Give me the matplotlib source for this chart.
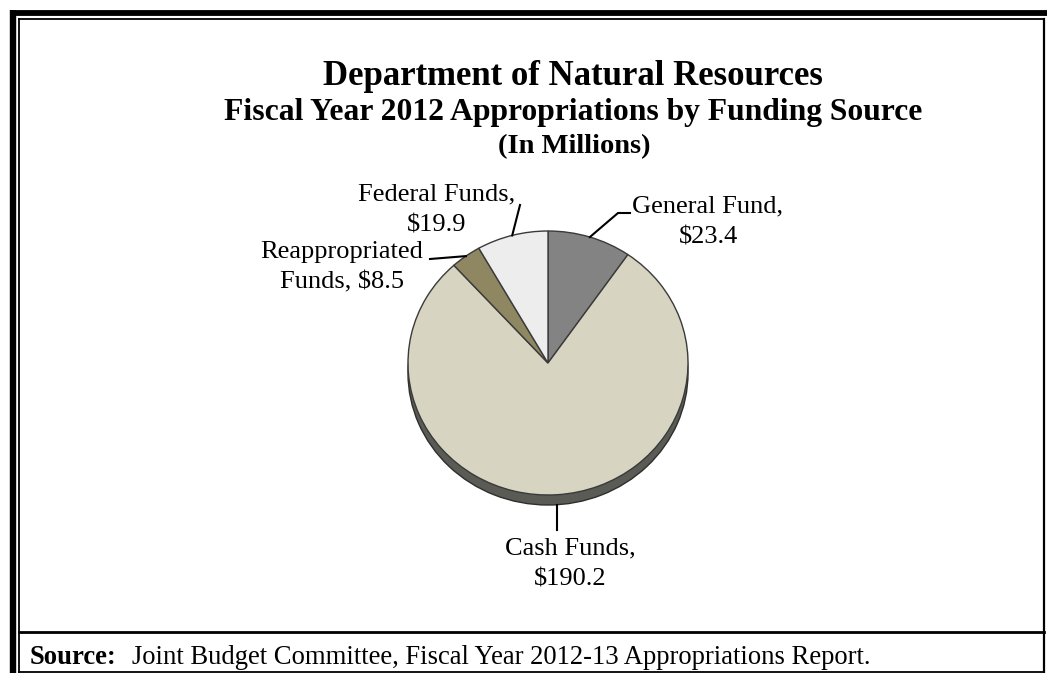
import numpy as np
import matplotlib
matplotlib.use("Agg")
import matplotlib.pyplot as plt
from matplotlib.patches import Rectangle

# FY 2012 appropriations by funding source ($ millions), clockwise from 12 o'clock
sources = ["General Fund", "Cash Funds", "Reappropriated Funds", "Federal Funds"]
amounts = [23.4, 190.2, 8.5, 19.9]
label_text = ["General Fund,\n$23.4", "Cash Funds,\n$190.2",
              "Reappropriated\nFunds, $8.5", "Federal Funds,\n$19.9"]
colors = ["#838383", "#d8d4c2", "#8e8762", "#ededed"]

W, H = 1047, 673
SERIF = "Liberation Serif"

fig = plt.figure(figsize=(W / 100, H / 100), dpi=100)
fig.patch.set_facecolor("white")

# pie axes: slightly squashed so the disc reads as tilted
cx, cy, rx, ry = 548, 363, 140, 132
lim = 1.3
pax = fig.add_axes([(cx - lim * rx) / W, (H - cy - lim * ry) / H,
                    2 * lim * rx / W, 2 * lim * ry / H])
depth = 10 / ry

# side of the disc, drawn underneath the top face
pax.pie([sum(amounts)], colors=["#5b5b55"], center=(0, -depth), radius=1,
        wedgeprops=dict(edgecolor="#2e2e2e", linewidth=1.0))
pax.add_patch(Rectangle((-1, -depth), 2, depth, facecolor="#5b5b55", edgecolor="none"))
wedges, _ = pax.pie(amounts, colors=colors, startangle=90, counterclock=False, radius=1,
                    wedgeprops=dict(edgecolor="#3a3a3a", linewidth=1.0))
pax.set_aspect("auto")
pax.set_xlim(-lim, lim)
pax.set_ylim(-lim, lim)
pax.axis("off")

# overlay in pixel coordinates for frame, titles and leaders
ax = fig.add_axes([0, 0, 1, 1], zorder=5)
ax.set_xlim(0, W)
ax.set_ylim(H, 0)
ax.axis("off")
ax.patch.set_alpha(0)

# double border: heavy outer on top/left, thin inner box, source row underneath
ax.plot([10, W], [12.5, 12.5], color="black", lw=4.2, solid_capstyle="butt")
ax.plot([13, 13], [10, H], color="black", lw=4.6, solid_capstyle="butt")
ax.plot([18.5, 1044], [18.5, 18.5], color="black", lw=1.3)
ax.plot([18.5, 18.5], [18.5, H], color="black", lw=1.3)
ax.plot([1044, 1044], [18.5, H], color="black", lw=1.6)
ax.plot([18.5, 1044], [632, 632], color="black", lw=2.0)
ax.plot([18.5, 1044], [671.5, 671.5], color="black", lw=1.3)

ax.text(573, 85, "Department of Natural Resources", ha="center", va="baseline",
        fontsize=25, fontweight="bold", family=SERIF)
ax.text(573, 120, "Fiscal Year 2012 Appropriations by Funding Source", ha="center",
        va="baseline", fontsize=22.8, fontweight="bold", family=SERIF)
ax.text(574, 153, "(In Millions)", ha="center", va="baseline",
        fontsize=20.5, fontweight="bold", family=SERIF)


def edge_point(w, drop=0.0):
    mid = np.deg2rad((w.theta1 + w.theta2) / 2)
    px, py = pax.transData.transform((np.cos(mid), np.sin(mid) - drop))
    return px, H - py


# leader paths (label end points) and label centres
leader_ends = [[(618, 213), (630, 213)], [(None, 530)], [(430, 259)], [(520, 205)]]
label_pos = [(708, 222), (570, 564), (342, 267), (437, 210)]
drops = [0, depth, 0, 0]

for w, txt, ends, pos, drop in zip(wedges, label_text, leader_ends, label_pos, drops):
    x0, y0 = edge_point(w, drop)
    xs, ys = [x0], [y0]
    for ex, ey in ends:
        xs.append(x0 if ex is None else ex)
        ys.append(ey)
    ax.plot(xs, ys, color="black", lw=1.5)
    ax.text(pos[0], pos[1], txt, ha="center", va="center", multialignment="center",
            fontsize=19, family=SERIF, linespacing=1.5)

ax.text(30, 664, "Source:", ha="left", va="baseline", fontsize=19.2,
        fontweight="bold", family=SERIF)
ax.text(132, 664, "Joint Budget Committee, Fiscal Year 2012-13 Appropriations Report.",
        ha="left", va="baseline", fontsize=19.2, family=SERIF)

fig.savefig("out.png", dpi=100, facecolor="white")
